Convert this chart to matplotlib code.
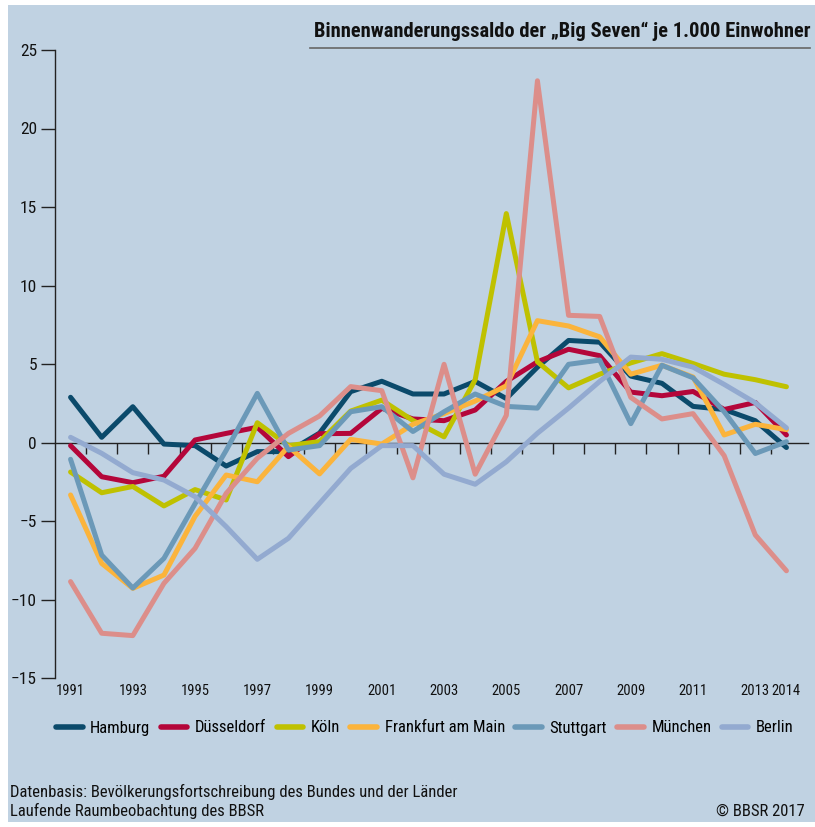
import matplotlib
matplotlib.use("Agg")
import matplotlib.pyplot as plt
from matplotlib import font_manager as fm
from matplotlib.patches import Rectangle
from matplotlib.lines import Line2D
import numpy as np

years = list(range(1991, 2015))
hamburg = [2.88, 0.33, 2.28, -0.1, -0.2, -1.5, -0.58, -0.58, 0.6, 3.24, 3.9, 3.09, 3.09, 3.89, 2.8, 4.8, 6.5, 6.39, 4.23, 3.77, 2.3, 2.1, 1.39, -0.32]
duesseldorf = [-0.2, -2.18, -2.56, -2.15, 0.16, 0.58, 0.97, -0.9, 0.56, 0.58, 2.18, 1.5, 1.39, 2.07, 3.89, 5.14, 5.94, 5.53, 3.21, 2.98, 3.25, 2.1, 2.55, 0.48]
koeln = [-1.88, -3.2, -2.8, -4.04, -3.0, -3.66, 1.26, -0.2, 0.06, 2.0, 2.7, 1.4, 0.36, 4.0, 14.58, 5.14, 3.48, 4.35, 5.07, 5.66, 5.03, 4.35, 4.0, 3.55]
frankfurt = [-3.34, -7.7, -9.29, -8.44, -4.7, -2.07, -2.5, -0.25, -2.0, 0.2, -0.1, 1.16, 1.84, 2.64, 3.61, 7.76, 7.42, 6.73, 4.35, 4.92, 4.17, 0.48, 1.16, 0.82]
stuttgart = [-1.07, -7.17, -9.27, -7.38, -3.9, -0.5, 3.13, -0.48, -0.2, 1.96, 2.28, 0.7, 1.96, 3.09, 2.3, 2.19, 4.98, 5.25, 1.2, 4.92, 4.12, 1.96, -0.7, 0.05]
muenchen = [-8.86, -12.15, -12.3, -8.97, -6.74, -3.24, -1.0, 0.58, 1.69, 3.56, 3.3, -2.25, 4.98, -2.02, 1.73, 23.04, 8.1, 8.03, 2.87, 1.5, 1.84, -0.84, -5.89, -8.17]
berlin = [0.33, -0.69, -1.92, -2.39, -3.45, -5.36, -7.44, -6.1, -3.87, -1.65, -0.2, -0.2, -2.02, -2.66, -1.23, 0.59, 2.19, 3.89, 5.44, 5.3, 4.8, 3.7, 2.53, 0.93]

series_names = ["Hamburg", "Düsseldorf", "Köln", "Frankfurt am Main", "Stuttgart", "München", "Berlin"]
series_values = [hamburg, duesseldorf, koeln, frankfurt, stuttgart, muenchen, berlin]
series_colors = ["#0b4a6b", "#b4063a", "#bfc100", "#fbb43c", "#6b99b8", "#dc8e8a", "#93aad0"]

xtick_years = [1991, 1993, 1995, 1997, 1999, 2001, 2003, 2005, 2007, 2009, 2011, 2013, 2014]
yticks = [-15, -10, -5, 0, 5, 10, 15, 20, 25]

# pick a condensed font if one is installed
def _is_cond(f):
    st = f.stretch
    if isinstance(st, str):
        return st in ("condensed", "semi-condensed", "extra-condensed", "ultra-condensed")
    return st < 500

fam, stretch = "DejaVu Sans", "normal"
pref = ["Liberation Sans Narrow", "Roboto Condensed", "Open Sans Condensed", "Noto Sans Condensed",
        "DejaVu Sans Condensed", "Noto Sans", "Roboto", "Open Sans", "DejaVu Sans", "Inter", "Lato"]
found = None
for p in pref:
    for f in fm.fontManager.ttflist:
        if f.name == p and ("Narrow" in p or "Condensed" in p or _is_cond(f)):
            found = f
            break
    if found:
        break
if found is None:
    for f in fm.fontManager.ttflist:
        if "Narrow" in f.name or "Condensed" in f.name or _is_cond(f):
            found = f
            break
if found is not None:
    fam = found.name
    stretch = found.stretch if (_is_cond(found)) else "normal"

plt.rcParams['font.family'] = [fam, "DejaVu Sans"]
plt.rcParams['font.stretch'] = stretch
FP = dict(fontstretch=stretch)

BG = "#c0d2e2"
fig = plt.figure(figsize=(8.15, 8.27), dpi=100)
fig.patch.set_facecolor("white")
fig.patches.append(Rectangle((8/815, 5/827), 1 - 8/815, 1 - 10/827, transform=fig.transFigure,
                             facecolor=BG, edgecolor="none", zorder=-10))

ax = fig.add_axes([55/815, 1 - 678/827, (802 - 55)/815, (678 - 50)/827])
ax.set_facecolor("none")
ax.set_xlim(1990.5, 2014.5)
ax.set_ylim(-15, 25)

for name, vals, col in zip(series_names, series_values, series_colors):
    ax.plot(years, vals, color=col, lw=3.6, solid_joinstyle="round", solid_capstyle="round", zorder=3)

# zero line and boundary ticks
ax.axhline(0, color="#222222", lw=1.0, zorder=2, xmax=1.008, clip_on=False)
boundaries = np.arange(1991.5, 2014.0, 1.0)
ax.vlines(boundaries, -0.75, 0, color="#222222", lw=1.0, zorder=2)

for s in ["top", "right", "bottom"]:
    ax.spines[s].set_visible(False)
ax.spines["left"].set_color("#222222")
ax.spines["left"].set_linewidth(1.0)

ax.set_yticks(yticks)
ax.set_yticklabels([str(v).replace("-", "\u2212") for v in yticks], fontsize=12.5, **FP)
ax.tick_params(axis="y", length=10, width=1.0, color="#222222", pad=3, labelcolor="#111111")

ax.set_xticks(xtick_years)
ax.set_xticklabels([str(y) for y in xtick_years], fontsize=10.5, **FP)
ax.tick_params(axis="x", length=0, pad=4, labelcolor="#111111")

# title
fig.text(810/815, 1 - 31/827, "Binnenwanderungssaldo der \u201eBig Seven\u201c je 1.000 Einwohner",
         ha="right", va="center", fontsize=14.8, fontweight="bold", color="#111111", **FP)
fig.add_artist(Line2D([310/815, 810/815], [1 - 48/827, 1 - 48/827], color="#666666", lw=1.2,
                      transform=fig.transFigure))

# legend
handles = [Line2D([], [], color=c, lw=4, solid_capstyle="round") for c in series_colors]
leg = fig.legend(handles, series_names, loc="center left", bbox_to_anchor=(56/815, 1 - 728/827),
                 ncol=7, frameon=False, prop=fm.FontProperties(family=[fam, "DejaVu Sans"], stretch=stretch, size=12),
                 handlelength=1.6, handletextpad=0.45,
                 columnspacing=0.62, borderaxespad=0, borderpad=0)

# footer
fig.text(10/815, 1 - 792/827, "Datenbasis: Bev\u00f6lkerungsfortschreibung des Bundes und der L\u00e4nder",
         ha="left", va="center", fontsize=12, color="#111111", **FP)
fig.text(10/815, 1 - 811/827, "Laufende Raumbeobachtung des BBSR",
         ha="left", va="center", fontsize=12, color="#111111", **FP)
fig.text(805/815, 1 - 811/827, "\u00a9 BBSR 2017",
         ha="right", va="center", fontsize=12, color="#111111", **FP)

fig.savefig("out.png", dpi=100, facecolor=fig.get_facecolor())
